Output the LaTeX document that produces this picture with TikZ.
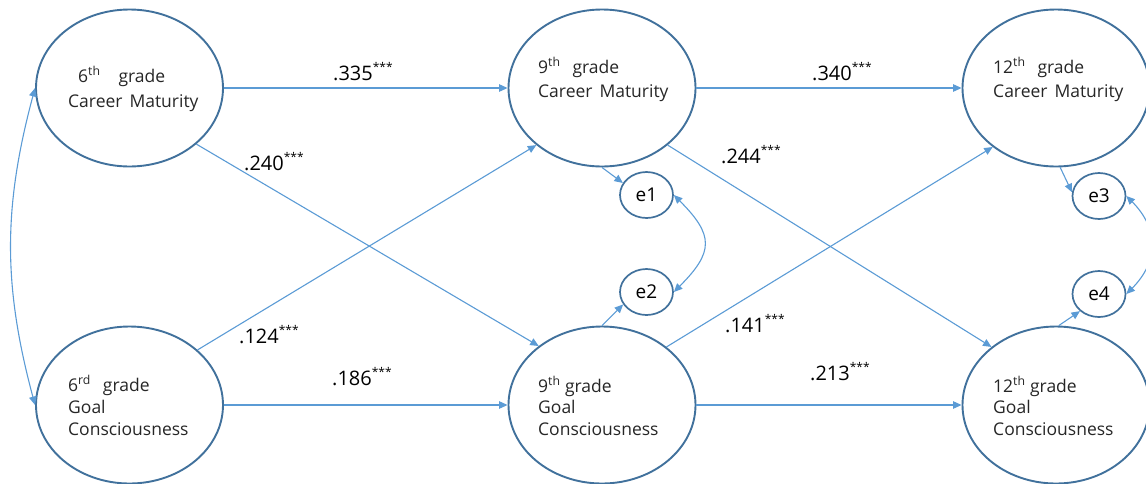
\documentclass[tikz,border=0pt]{standalone}
\usepackage{fontspec}
\setmainfont{Open Sans}
\usetikzlibrary{shapes.geometric,arrows.meta}
\definecolor{ellc}{HTML}{41719C}
\definecolor{arrc}{HTML}{5B9BD5}
\definecolor{txtc}{HTML}{262626}
\newcommand{\pstars}{{\fontsize{12}{12}\selectfont\raisebox{9pt}{***}}}
\tikzset{
  bigell/.style={ellipse, draw=ellc, line width=1.9pt, minimum width=187pt, minimum height=157pt, inner sep=0pt},
  errell/.style={ellipse, draw=ellc, line width=1.7pt, minimum width=53pt, minimum height=46pt, inner sep=0pt, font=\fontsize{19}{19}\selectfont, text=black},
  lbl/.style={anchor=base west, inner sep=0pt, font=\fontsize{17.5}{20}\selectfont, text=txtc},
  coef/.style={anchor=base west, inner sep=0pt, font=\fontsize{20}{20}\selectfont, text=black},
  conn/.style={draw=arrc, line width=1.1pt, -{Triangle[length=8.5pt,width=7.5pt]}},
  dconn/.style={draw=arrc, line width=1.1pt, {Triangle[length=8.5pt,width=7.5pt]}-{Triangle[length=8.5pt,width=7.5pt]}}
}
\begin{document}
\begin{tikzpicture}[x=1pt,y=-1pt]
\useasboundingbox (0,0) rectangle (1146,483);
% latent variables
\node[bigell] (A) at (129.5,88) {};
\node[bigell] (B) at (129.5,405) {};
\node[bigell] (C) at (602,88) {};
\node[bigell] (D) at (602,405) {};
\node[bigell] (E) at (1056,88) {};
\node[bigell] (F) at (1056,405) {};
% errors
\node[errell] (e1) at (646.5,195) {e1};
\node[errell] (e2) at (646.5,292) {e2};
\node[errell] (e3) at (1099,196) {e3};
\node[errell] (e4) at (1099,294) {e4};
% texts
\node[lbl] (tA1) at (78,82) {6\textsuperscript{th}\hspace{18pt}grade};
\node[lbl] (tA2) at (68,107) {Career\hspace{7pt}Maturity};
\node[lbl] (tB1) at (68,391) {6\textsuperscript{rd}\hspace{12pt}grade};
\node[lbl] (tB2) at (68,413) {Goal};
\node[lbl] (tB3) at (68,435) {Consciousness};
\node[lbl] (tC1) at (538,73) {9\textsuperscript{th}\hspace{12pt}grade};
\node[lbl] (tC2) at (538,97) {Career\hspace{7pt}Maturity};
\node[lbl] (tD1) at (538,392) {9\textsuperscript{th} grade};
\node[lbl] (tD2) at (538,413) {Goal};
\node[lbl] (tD3) at (538,435) {Consciousness};
\node[lbl] (tE1) at (993,73) {12\textsuperscript{th}\hspace{12pt}grade};
\node[lbl] (tE2) at (993,97) {Career\hspace{7pt}Maturity};
\node[lbl] (tF1) at (993,392) {12\textsuperscript{th} grade};
\node[lbl] (tF2) at (993,413) {Goal};
\node[lbl] (tF3) at (993,435) {Consciousness};
% paths
\draw[conn] (A.east) -- (C.west);
\draw[conn] (A.-40) -- (D.137);
\draw[conn] (B.39) -- (C.221);
\draw[conn] (B.east) -- (D.west);
\draw[conn] (C.east) -- (E.west);
\draw[conn] (C.-41) -- (F.138);
\draw[conn] (D.42) -- (E.223);
\draw[conn] (D.east) -- (F.west);
\draw[conn] (C.south) -- (e1.153);
\draw[conn] (D.north) -- (e2.208);
\draw[conn] (E.-87) -- (e3.172);
\draw[conn] (F.88) -- (e4.222);
\draw[dconn] (e1.east) to[out=-45,in=45,looseness=1.5] (e2.east);
\draw[dconn] (e3.east) to[out=-45,in=45,looseness=1.2] (e4.east);
\draw[dconn] (A.west) to[out=-105,in=105] (B.west);
% coefficients
\node[coef] (c1) at (333,80) {.335\pstars};
\node[coef] (c2) at (244,170) {.240\pstars};
\node[coef] (c3) at (239,343) {.124\pstars};
\node[coef] (c4) at (332,385) {.186\pstars};
\node[coef] (c5) at (812,80) {.340\pstars};
\node[coef] (c6) at (721,163) {.244\pstars};
\node[coef] (c7) at (725,332) {.141\pstars};
\node[coef] (c8) at (810,380) {.213\pstars};
\end{tikzpicture}
\end{document}
